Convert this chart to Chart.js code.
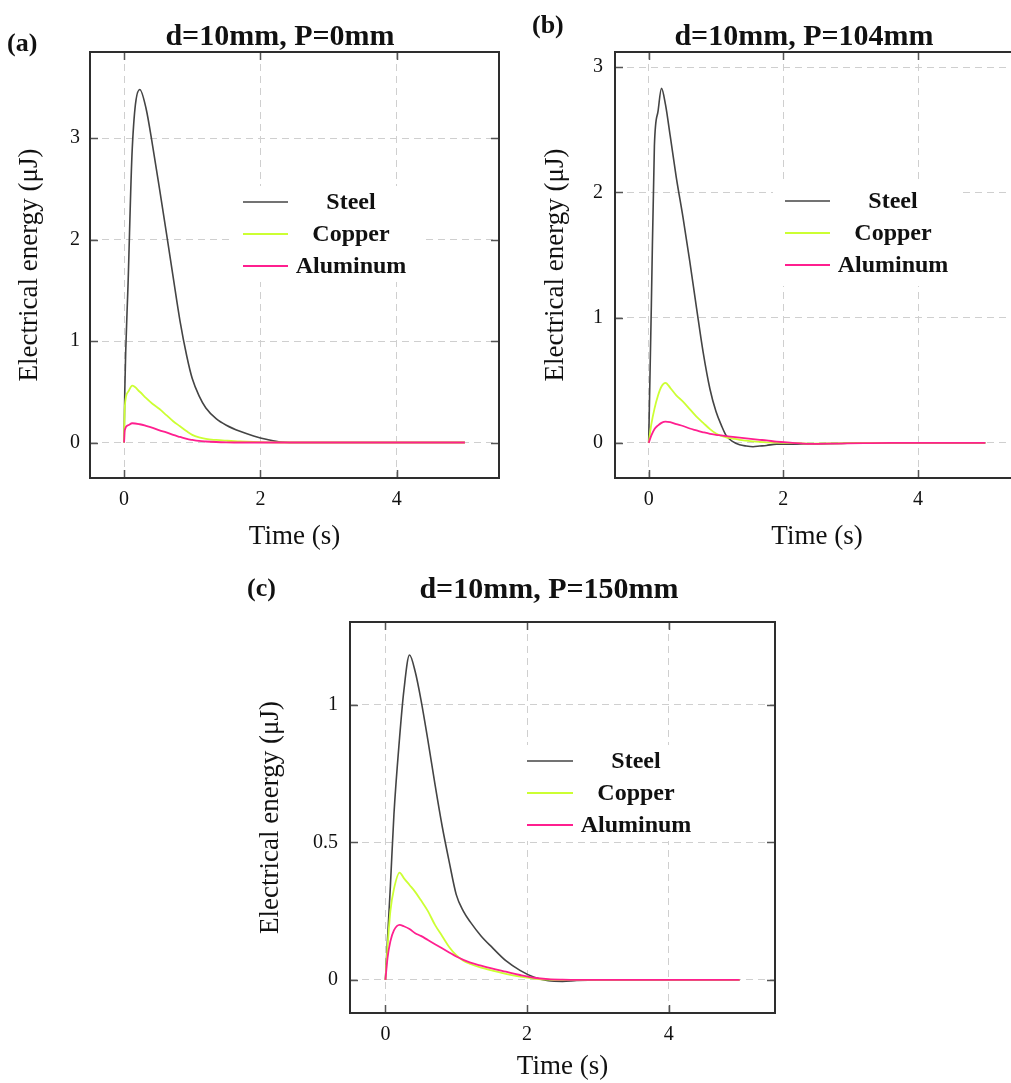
<!DOCTYPE html>
<html>
<head>
<meta charset="utf-8">
<script src="https://cdn.jsdelivr.net/npm/chart.js@4.4.1/dist/chart.umd.min.js"></script>
<style>
  html, body { margin: 0; padding: 0; background: #fff; overflow: hidden; }
  #page { position: relative; width: 1011px; height: 1083px; overflow: hidden; }
  .panel { position: absolute; }
  .ttl { position: absolute; font: bold 30px "Liberation Serif", serif; color: #111; white-space: nowrap; transform: translate(-50%, -50%); }
  .lbl { position: absolute; font: bold 26px "Liberation Serif", serif; color: #111; white-space: nowrap; transform: translateY(-50%); }
</style>
</head>
<body>
<div id="page"></div>
<script>
// ---- data ----
const seriesNames = ['Steel', 'Copper', 'Aluminum'];
const panelTitles = ['d=10mm, P=0mm', 'd=10mm, P=104mm', 'd=10mm, P=150mm'];
const panelLabels = ['(a)', '(b)', '(c)'];
const xTicks = [0, 2, 4];
const yTicksA = [0, 1, 2, 3];
const yTicksB = [0, 1, 2, 3];
const yTicksC = [0, 0.5, 1];

// (a) P = 0 mm
const timeA     = [0, 0.01, 0.06, 0.12, 0.23, 0.32, 0.42, 0.52, 0.62, 0.72, 0.82, 0.92, 1.0, 1.1, 1.2, 1.35, 1.5, 1.7, 1.9, 2.1, 2.3, 2.6, 3.0, 3.5, 4.0, 4.5, 5.0];
const steelA    = [0, 0.5, 1.6, 2.9, 3.48, 3.3, 2.92, 2.5, 2.07, 1.63, 1.2, 0.85, 0.63, 0.46, 0.34, 0.235, 0.17, 0.11, 0.065, 0.03, 0.005, 0, 0, 0, 0, 0, 0];
const copperA   = [0, 0.35, 0.5, 0.56, 0.5, 0.44, 0.38, 0.33, 0.27, 0.21, 0.16, 0.11, 0.075, 0.05, 0.035, 0.025, 0.018, 0.01, 0.005, 0.002, 0, 0, 0, 0, 0, 0, 0];
const aluminumA = [0, 0.12, 0.17, 0.19, 0.18, 0.165, 0.145, 0.12, 0.1, 0.075, 0.055, 0.035, 0.025, 0.015, 0.01, 0.005, 0.002, 0, 0, 0, 0, 0, 0, 0, 0, 0, 0];

// (b) P = 104 mm
const timeB     = [0, 0.04, 0.085, 0.14, 0.19, 0.25, 0.32, 0.41, 0.51, 0.61, 0.71, 0.81, 0.91, 1.0, 1.08, 1.15, 1.25, 1.35, 1.45, 1.55, 1.65, 1.75, 1.9, 2.1, 2.4, 2.8, 3.2, 3.6, 4.0, 4.5, 5.0];
const steelB    = [0, 1.1, 2.37, 2.65, 2.83, 2.7, 2.45, 2.12, 1.8, 1.45, 1.08, 0.72, 0.43, 0.25, 0.14, 0.06, 0.01, -0.015, -0.025, -0.03, -0.025, -0.02, -0.01, -0.01, -0.008, -0.005, 0, 0, 0, 0, 0];
const copperB   = [0, 0.15, 0.27, 0.38, 0.45, 0.48, 0.44, 0.38, 0.33, 0.27, 0.21, 0.16, 0.11, 0.075, 0.055, 0.045, 0.035, 0.025, 0.018, 0.012, 0.008, 0.005, 0.002, 0, -0.005, -0.003, 0, 0, 0, 0, 0];
const aluminumB = [0, 0.06, 0.11, 0.14, 0.16, 0.17, 0.165, 0.15, 0.135, 0.115, 0.1, 0.085, 0.072, 0.065, 0.06, 0.055, 0.048, 0.042, 0.036, 0.03, 0.025, 0.02, 0.01, 0.002, -0.008, -0.005, -0.002, 0, 0, 0, 0];

// (c) P = 150 mm
const timeC     = [0, 0.03, 0.07, 0.12, 0.2, 0.26, 0.34, 0.42, 0.5, 0.6, 0.7, 0.8, 0.9, 1.0, 1.1, 1.2, 1.35, 1.5, 1.7, 1.9, 2.1, 2.3, 2.5, 2.7, 3.0, 3.5, 4.0, 4.5, 5.0];
const steelC    = [0, 0.15, 0.34, 0.6, 0.88, 1.05, 1.18, 1.12, 1.02, 0.87, 0.71, 0.56, 0.43, 0.31, 0.25, 0.21, 0.16, 0.12, 0.07, 0.035, 0.01, -0.003, -0.005, -0.002, 0, 0, 0, 0, 0];
const copperC   = [0, 0.12, 0.25, 0.33, 0.39, 0.37, 0.345, 0.32, 0.29, 0.25, 0.2, 0.16, 0.12, 0.09, 0.07, 0.058, 0.045, 0.035, 0.022, 0.012, 0.005, 0.001, 0, 0, 0, 0, 0, 0, 0];
const aluminumC = [0, 0.08, 0.14, 0.18, 0.2, 0.195, 0.185, 0.17, 0.16, 0.145, 0.13, 0.115, 0.1, 0.085, 0.073, 0.063, 0.052, 0.042, 0.03, 0.018, 0.008, 0.003, 0.001, 0, 0, 0, 0, 0, 0];

// ---- styling ----
const seriesColors = ['#444444', '#ccff33', '#ff1f8f'];
const seriesWidths = [1.6, 1.8, 1.8];
const serif = '"Liberation Serif", "Times New Roman", serif';
const inkColor = '#111';

// frame, inward tick marks and the in-plot legend
const framePlugin = {
  id: 'frame',
  beforeDatasetsDraw(chart, args, opts) {
    const { ctx, chartArea: a } = chart;
    const lg = opts.legend;
    const rows = lg.rows.map(r => a.top + r);
    ctx.save();
    ctx.fillStyle = '#fff';
    ctx.fillRect(a.left + lg.box[0], a.top + lg.box[1], lg.box[2], lg.box[3]);
    ctx.font = 'bold 24px ' + serif;
    ctx.textAlign = 'center';
    ctx.textBaseline = 'middle';
    seriesNames.forEach((name, i) => {
      ctx.strokeStyle = seriesColors[i];
      ctx.lineWidth = seriesWidths[i];
      ctx.beginPath();
      ctx.moveTo(a.left + lg.x1, rows[i]);
      ctx.lineTo(a.left + lg.x2, rows[i]);
      ctx.stroke();
      ctx.fillStyle = inkColor;
      ctx.fillText(name, a.left + lg.textX, rows[i] + 1);
    });
    ctx.restore();
  },
  afterDraw(chart) {
    const { ctx, chartArea: a, scales } = chart;
    ctx.save();
    ctx.strokeStyle = '#555';
    ctx.lineWidth = 1.5;
    ctx.beginPath();
    scales.x.ticks.forEach(t => {
      const px = Math.round(scales.x.getPixelForValue(t.value)) + 0.5;
      ctx.moveTo(px, a.bottom); ctx.lineTo(px, a.bottom - 8);
      ctx.moveTo(px, a.top); ctx.lineTo(px, a.top + 8);
    });
    scales.y.ticks.forEach(t => {
      const py = Math.round(scales.y.getPixelForValue(t.value)) + 0.5;
      ctx.moveTo(a.left, py); ctx.lineTo(a.left + 8, py);
      ctx.moveTo(a.right, py); ctx.lineTo(a.right - 8, py);
    });
    ctx.stroke();
    ctx.strokeStyle = '#2e2e2e';
    ctx.lineWidth = 2;
    ctx.strokeRect(a.left, a.top, a.right - a.left, a.bottom - a.top);
    ctx.restore();
  }
};

const panels = [
  { left: 0, top: 0, w: 520, h: 560, axisW: 90, axisH: 82, padRight: 21,
    time: timeA, values: [steelA, copperA, aluminumA], yTicks: yTicksA, yMin: -0.35, yMax: 3.85,
    yTitlePad: 14, yTickPad: 10, xTickPad: 10, xTitlePad: 7,
    legend: { x1: 153, x2: 198, textX: 261, rows: [150, 182, 214], box: [144, 134, 188, 96] },
    titleAt: [280, 35], labelAt: [7, 43] },
  { left: 520, top: 0, w: 520, h: 560, axisW: 95, axisH: 82, padRight: 21,
    time: timeB, values: [steelB, copperB, aluminumB], yTicks: yTicksB, yMin: -0.28, yMax: 3.12,
    yTitlePad: 20, yTickPad: 12, xTickPad: 10, xTitlePad: 7,
    legend: { x1: 170, x2: 215, textX: 278, rows: [149, 181, 213], box: [158, 130, 189, 104] },
    titleAt: [804, 35], labelAt: [532, 25] },
  { left: 240, top: 570, w: 560, h: 513, axisW: 110, axisH: 70, padRight: 25,
    time: timeC, values: [steelC, copperC, aluminumC], yTicks: yTicksC, yMin: -0.12, yMax: 1.3,
    yTitlePad: 15, yTickPad: 12, xTickPad: 10, xTitlePad: 0,
    legend: { x1: 177, x2: 223, textX: 286, rows: [139, 171, 203], box: [166, 123, 190, 96] },
    titleAt: [549, 588], labelAt: [247, 588] }
];

const page = document.getElementById('page');

panels.forEach((p, k) => {
  const box = document.createElement('div');
  box.className = 'panel';
  box.style.cssText = `left:${p.left}px;top:${p.top}px;width:${p.w}px;height:${p.h}px`;
  const canvas = document.createElement('canvas');
  box.appendChild(canvas);
  page.appendChild(box);

  const ttl = document.createElement('div');
  ttl.className = 'ttl';
  ttl.style.left = p.titleAt[0] + 'px';
  ttl.style.top = p.titleAt[1] + 'px';
  ttl.textContent = panelTitles[k];
  page.appendChild(ttl);

  const lbl = document.createElement('div');
  lbl.className = 'lbl';
  lbl.style.left = p.labelAt[0] + 'px';
  lbl.style.top = p.labelAt[1] + 'px';
  lbl.textContent = panelLabels[k];
  page.appendChild(lbl);

  const datasets = seriesNames.map((name, i) => ({
    label: name,
    data: p.time.map((t, j) => ({ x: t, y: p.values[i][j] })),
    borderColor: seriesColors[i],
    borderWidth: seriesWidths[i],
    pointRadius: 0,
    cubicInterpolationMode: 'monotone',
    fill: false,
    order: seriesNames.length - i   // aluminum on top
  }));

  new Chart(canvas.getContext('2d'), {
    type: 'line',
    data: { datasets },
    plugins: [framePlugin],
    options: {
      responsive: true,
      maintainAspectRatio: false,
      animation: false,
      events: [],
      layout: { padding: { top: 52, right: p.padRight, left: 0, bottom: 0 } },
      plugins: {
        legend: { display: false },
        tooltip: { enabled: false },
        frame: { legend: p.legend }
      },
      scales: {
        x: {
          type: 'linear',
          min: -0.5,
          max: 5.5,
          afterBuildTicks: scale => { scale.ticks = xTicks.map(v => ({ value: v })); },
          afterFit: scale => { scale.height = p.axisH; },
          grid: { color: '#cfcfcf', lineWidth: 1, drawTicks: false },
          border: { display: false, dash: [7, 5] },
          ticks: { padding: p.xTickPad, color: inkColor, font: { family: serif, size: 20 }, maxRotation: 0 },
          title: { display: true, text: 'Time (s)', color: inkColor,
                   font: { family: serif, size: 27 }, padding: { top: 0, bottom: p.xTitlePad } }
        },
        y: {
          type: 'linear',
          min: p.yMin,
          max: p.yMax,
          afterBuildTicks: scale => { scale.ticks = p.yTicks.map(v => ({ value: v })); },
          afterFit: scale => { scale.width = p.axisW; },
          grid: { color: '#cfcfcf', lineWidth: 1, drawTicks: false },
          border: { display: false, dash: [7, 5] },
          ticks: { padding: p.yTickPad, color: inkColor, font: { family: serif, size: 20 },
                   callback: v => String(v) },
          title: { display: true, text: 'Electrical energy (μJ)', color: inkColor,
                   font: { family: serif, size: 27 }, padding: { top: p.yTitlePad, bottom: 0 } }
        }
      }
    }
  });
});
</script>
</body>
</html>
